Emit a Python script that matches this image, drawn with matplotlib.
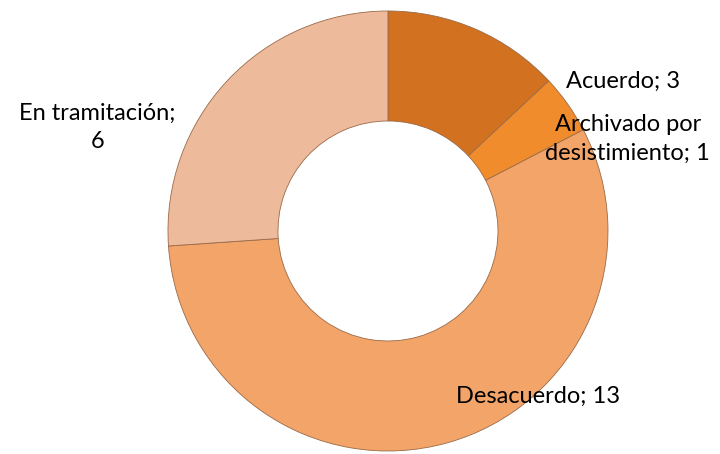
import matplotlib.pyplot as plt

labels = ['Acuerdo', 'Archivado por\ndesistimiento', 'Desacuerdo', 'En tramitación']
values = [3, 1, 13, 6]
colors = ['#D2711F', '#F18C2C', '#F3A468', '#EDBB9C']

plt.rcParams['font.family'] = ['Lato', 'DejaVu Sans']

fig = plt.figure(figsize=(7.2, 4.54), dpi=100)
ax = fig.add_axes([0.2333, 0.0066, 0.6111, 0.9692])

wedges, _ = ax.pie(values, colors=colors, startangle=90, counterclock=False,
                   radius=1.0, wedgeprops=dict(width=0.5, edgecolor='#9a6a48', linewidth=0.6))
ax.set_aspect('equal')
ax.set_xlim(-1.0, 1.0)
ax.set_ylim(-1.0, 1.0)

# etiquetas "nombre; valor" al estilo de Excel
txt = [f'{l}; {v}' for l, v in zip(labels, values)]
txt[3] = 'En tramitación;\n6'
pos = [(1.07, 0.68), (1.09, 0.42), (0.68, -0.75), (-1.32, 0.47)]
for t, (x, y) in zip(txt, pos):
    ax.text(x, y, t, ha='center', va='center', fontsize=17, color='black', linespacing=1.45)

fig.savefig('out.png', dpi=100, facecolor='white')
